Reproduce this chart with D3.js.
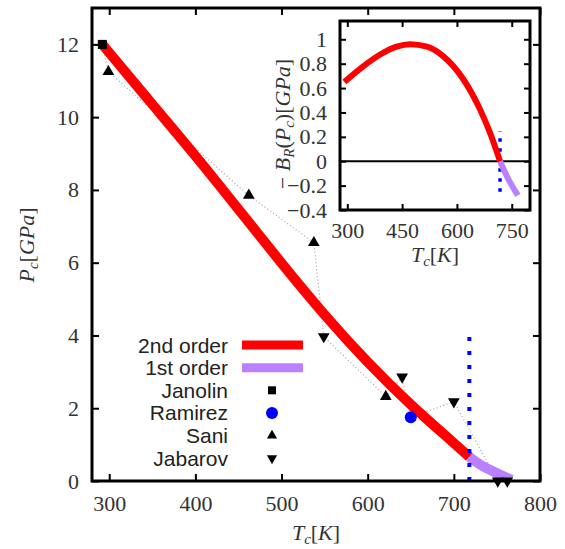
<!DOCTYPE html>
<html>
<head>
<meta charset="utf-8">
<script src="https://cdn.jsdelivr.net/npm/d3@7"></script>
<style>
    body { margin: 0; background: #fff; }
    .tick text { font-family: "Liberation Serif", serif; font-size: 22px; fill: #333; }
    .lbl { font-family: "Liberation Serif", serif; font-size: 22px; fill: #333; }
    .leg { font-family: "Liberation Sans", Arial, sans-serif; font-size: 21px; fill: #222; }
</style>
</head>
<body>
<svg id="chart" width="565" height="549"></svg>
<script>
"use strict";
// ---- data ----
// main panel: critical pressure vs temperature
const secondOrderT = [292, 350, 400, 450, 500, 550, 600, 650, 700, 718];
const secondOrderP = [12.0, 10.35, 8.95, 7.47, 5.98, 4.55, 3.25, 2.08, 1.05, 0.66];
const firstOrderT = [718, 730, 744, 755, 767];
const firstOrderP = [0.66, 0.45, 0.28, 0.16, 0.03];

const janolinT = [292];
const janolinP = [12.0];
const ramirezT = [650];
const ramirezP = [1.75];
const saniT = [299, 462, 537.5, 621];
const saniP = [11.25, 7.85, 6.55, 2.32];
const jabarovT = [549, 640, 700, 751, 762];
const jabarovP = [3.97, 2.86, 2.18, 0, 0];

const transitionT = 718;
const transitionP = [0, 4];

// inset: B_R(P_c)
const insetSecondT = [292, 340, 390, 435, 472, 518, 563, 618, 664, 691, 718];
const insetSecondB = [0.65, 0.77, 0.875, 0.94, 0.96, 0.94, 0.86, 0.67, 0.42, 0.23, 0.0];
const insetFirstT = [718, 737, 767];
const insetFirstB = [0.0, -0.125, -0.28];
const insetMarkB = [-0.25, 0.245];

// ticks
const mainXTicks = [300, 400, 500, 600, 700, 800];
const mainYTicks = [0, 2, 4, 6, 8, 10, 12];
const insetXTicks = [300, 450, 600, 750];
const insetYTicks = [-0.4, -0.2, 0, 0.2, 0.4, 0.6, 0.8, 1];

const legendLabels = ["2nd order", "1st order", "Janolin", "Ramirez", "Sani", "Jabarov"];

const RED = "#ff0000", PURPLE = "#bb80ff", BLUE = "#0000ff";

var svg = d3.select("#chart");

// ---- main panel ----
var m = {left: 92, right: 540, top: 8, bottom: 481};
var x = d3.scaleLinear().domain([280, 800]).range([m.left, m.right]);
var y = d3.scaleLinear().domain([0, 13]).range([m.bottom, m.top]);

function zip(a, b) { return a.map(function (v, i) { return [v, b[i]]; }); }

var line = d3.line()
    .x(function (d) { return x(d[0]); })
    .y(function (d) { return y(d[1]); })
    .curve(d3.curveBasis);

// experimental points joined by a grey dotted line, sorted by T
var expPts = zip(janolinT, janolinP).concat(zip(saniT, saniP), zip(jabarovT, jabarovP), zip(ramirezT, ramirezP))
    .sort(function (a, b) { return a[0] - b[0]; });
svg.append("path")
    .attr("d", d3.line().x(function (d) { return x(d[0]); }).y(function (d) { return y(d[1]); })(expPts))
    .attr("fill", "none")
    .attr("stroke", "#b0b0b0")
    .attr("stroke-width", 1.2)
    .attr("stroke-dasharray", "1.2,2.3");

svg.append("path")
    .attr("d", line(zip(secondOrderT, secondOrderP)))
    .attr("fill", "none").attr("stroke", RED).attr("stroke-width", 10);
svg.append("path")
    .attr("d", line(zip(firstOrderT, firstOrderP)))
    .attr("fill", "none").attr("stroke", PURPLE).attr("stroke-width", 10);

svg.append("line")
    .attr("x1", x(transitionT)).attr("x2", x(transitionT))
    .attr("y1", y(transitionP[0])).attr("y2", y(transitionP[1]))
    .attr("stroke", BLUE).attr("stroke-width", 4).attr("stroke-dasharray", "4,10");

// markers
var sq = d3.symbol().type(d3.symbolSquare).size(81);
var tri = d3.symbol().type(d3.symbolTriangle).size(60);

function addMarks(T, P, path, rot, fill) {
    svg.append("g").selectAll("path")
        .data(zip(T, P))
        .enter().append("path")
        .attr("d", path)
        .attr("fill", fill)
        .attr("transform", function (d) {
            return "translate(" + x(d[0]) + "," + y(d[1]) + ") rotate(" + rot + ")";
        });
}
addMarks(janolinT, janolinP, sq(), 0, "#000");
addMarks(saniT, saniP, tri(), 0, "#000");
addMarks(jabarovT, jabarovP, tri(), 180, "#000");
svg.append("g").selectAll("circle")
    .data(zip(ramirezT, ramirezP))
    .enter().append("circle")
    .attr("cx", function (d) { return x(d[0]); })
    .attr("cy", function (d) { return y(d[1]); })
    .attr("r", 6)
    .attr("fill", BLUE);

// axes with inward ticks on all four sides
function styleAxis(g) {
    g.select(".domain").remove();
    g.selectAll(".tick line").attr("stroke", "#000").attr("stroke-width", 2);
}
svg.append("g").attr("transform", "translate(0," + m.bottom + ")")
    .call(d3.axisBottom(x).tickValues(mainXTicks).tickSize(-7).tickPadding(14))
    .call(styleAxis);
svg.append("g").attr("transform", "translate(0," + m.top + ")")
    .call(d3.axisTop(x).tickValues(mainXTicks).tickSize(-7).tickFormat(""))
    .call(styleAxis);
svg.append("g").attr("transform", "translate(" + m.left + ",0)")
    .call(d3.axisLeft(y).tickValues(mainYTicks).tickSize(-7).tickPadding(13))
    .call(styleAxis);
svg.append("g").attr("transform", "translate(" + m.right + ",0)")
    .call(d3.axisRight(y).tickValues(mainYTicks).tickSize(-7).tickFormat(""))
    .call(styleAxis);
svg.selectAll(".tick text").attr("font-size", null).attr("font-family", null);

svg.append("rect")
    .attr("x", m.left).attr("y", m.top)
    .attr("width", m.right - m.left).attr("height", m.bottom - m.top)
    .attr("fill", "none").attr("stroke", "#000").attr("stroke-width", 3);

// axis titles, math style
function mathLabel(g, parts) {
    var t = g.append("text").attr("class", "lbl").attr("text-anchor", "middle");
    parts.forEach(function (p) {
        var s = t.append("tspan").text(p[0]);
        if (p[1] === "i" || p[1] === "sub") s.attr("font-style", "italic");
        if (p[1] === "sub") s.attr("font-size", 15).attr("dy", 4);
        if (p[2]) s.attr("dy", p[2]);
    });
    return t;
}
mathLabel(svg.append("g").attr("transform", "translate(316,540)"),
    [["T", "i"], ["c", "sub"], ["[", "", -4], ["K", "i"], ["]", ""]]);
mathLabel(svg.append("g").attr("transform", "translate(34,245) rotate(-90)"),
    [["P", "i"], ["c", "sub"], ["[", "", -4], ["GPa", "i"], ["]", ""]]);

// legend
var leg = svg.append("g");
var rowY = d3.scaleLinear().domain([0, 1]).range([345, 367.65]);
legendLabels.forEach(function (l, i) {
    leg.append("text").attr("class", "leg")
        .attr("x", 228).attr("y", rowY(i) + 7.5)
        .attr("text-anchor", "end").text(l);
});
[RED, PURPLE].forEach(function (c, i) {
    leg.append("line").attr("x1", 242).attr("x2", 303)
        .attr("y1", rowY(i)).attr("y2", rowY(i))
        .attr("stroke", c).attr("stroke-width", 9);
});
leg.append("path").attr("d", d3.symbol().type(d3.symbolSquare).size(64)())
    .attr("transform", "translate(272," + rowY(2) + ")");
leg.append("circle").attr("cx", 272).attr("cy", rowY(3)).attr("r", 6).attr("fill", BLUE);
leg.append("path").attr("d", d3.symbol().type(d3.symbolTriangle).size(45)())
    .attr("transform", "translate(272," + rowY(4) + ")");
leg.append("path").attr("d", d3.symbol().type(d3.symbolTriangle).size(45)())
    .attr("transform", "translate(272," + rowY(5) + ") rotate(180)");

// ---- inset ----
var n = {left: 340, right: 530, top: 21, bottom: 210};
var xi = d3.scaleLinear().domain([280, 800]).range([n.left, n.right]);
var yi = d3.scaleLinear().domain([-0.4, 1.15]).range([n.bottom, n.top]);
var ins = svg.append("g");

ins.append("rect")
    .attr("x", n.left).attr("y", n.top)
    .attr("width", n.right - n.left).attr("height", n.bottom - n.top)
    .attr("fill", "#fff");

var lineI = d3.line()
    .x(function (d) { return xi(d[0]); })
    .y(function (d) { return yi(d[1]); })
    .curve(d3.curveMonotoneX);

ins.append("line")
    .attr("x1", n.left).attr("x2", n.right)
    .attr("y1", yi(0)).attr("y2", yi(0))
    .attr("stroke", "#000").attr("stroke-width", 2);
ins.append("line")
    .attr("x1", xi(transitionT)).attr("x2", xi(transitionT))
    .attr("y1", yi(insetMarkB[0])).attr("y2", yi(insetMarkB[1]))
    .attr("stroke", BLUE).attr("stroke-width", 3.5).attr("stroke-dasharray", "3.5,6.5");
ins.append("path")
    .attr("d", lineI(zip(insetSecondT, insetSecondB)))
    .attr("fill", "none").attr("stroke", RED).attr("stroke-width", 6);
ins.append("path")
    .attr("d", lineI(zip(insetFirstT, insetFirstB)))
    .attr("fill", "none").attr("stroke", PURPLE).attr("stroke-width", 6);

var fmt = function (d) { return d3.format("")(d).replace("-", "\u2212"); };
ins.append("g").attr("transform", "translate(0," + n.bottom + ")")
    .call(d3.axisBottom(xi).tickValues(insetXTicks).tickSize(-6).tickPadding(12))
    .call(styleAxis);
ins.append("g").attr("transform", "translate(0," + n.top + ")")
    .call(d3.axisTop(xi).tickValues(insetXTicks).tickSize(-6).tickFormat(""))
    .call(styleAxis);
ins.append("g").attr("transform", "translate(" + n.left + ",0)")
    .call(d3.axisLeft(yi).tickValues(insetYTicks).tickSize(-6).tickPadding(13).tickFormat(fmt))
    .call(styleAxis);
ins.append("g").attr("transform", "translate(" + n.right + ",0)")
    .call(d3.axisRight(yi).tickValues(insetYTicks).tickSize(-6).tickFormat(""))
    .call(styleAxis);
ins.selectAll(".tick text").attr("font-size", null).attr("font-family", null);

ins.append("rect")
    .attr("x", n.left).attr("y", n.top)
    .attr("width", n.right - n.left).attr("height", n.bottom - n.top)
    .attr("fill", "none").attr("stroke", "#000").attr("stroke-width", 3);

mathLabel(ins.append("g").attr("transform", "translate(435,262)"),
    [["T", "i"], ["c", "sub"], ["[", "", -4], ["K", "i"], ["]", ""]]);
mathLabel(ins.append("g").attr("transform", "translate(290,124) rotate(-90)"),
    [["\u2212 ", ""], ["B", "i"], ["R", "sub"], ["(", "", -4], ["P", "i"], ["c", "sub"], [")[", "", -4], ["GPa", "i"], ["]", ""]]);
</script>
</body>
</html>
